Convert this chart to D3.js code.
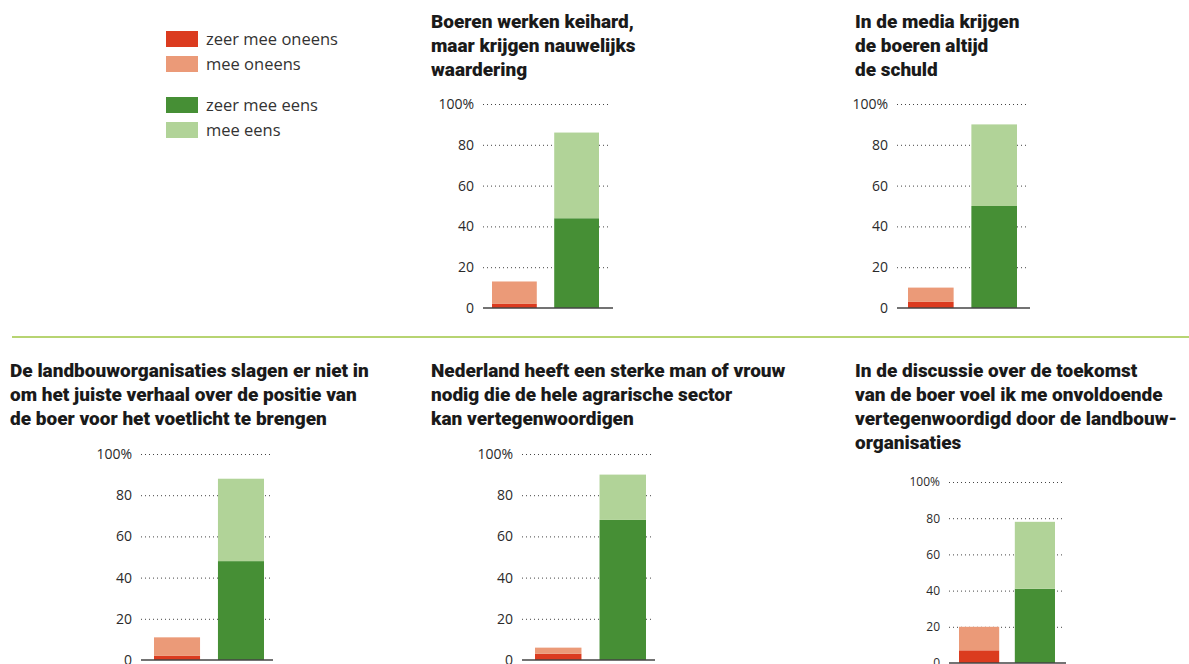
<!DOCTYPE html>
<html>
<head>
<meta charset="utf-8">
<script src="https://cdn.jsdelivr.net/npm/d3@7"></script>
<style>
  body { margin: 0; background: #fff; }
  svg { display: block; }
  .title { font-family: Roboto, sans-serif; font-weight: 900; font-size: 19px; fill: #1a1a1a; }
  .legend text { font-family: "Open Sans", sans-serif; font-size: 16.5px; fill: #333; }
  .tick text { font-family: "Open Sans", sans-serif; fill: #2a2a2a; }
</style>
</head>
<body>
<div id="chart"></div>
<script>
// survey answers per statement, percentages
const titles = [
  ["Boeren werken keihard,", "maar krijgen nauwelijks", "waardering"],
  ["In de media krijgen", "de boeren altijd", "de schuld"],
  ["De landbouworganisaties slagen er niet in", "om het juiste verhaal over de positie van", "de boer voor het voetlicht te brengen"],
  ["Nederland heeft een sterke man of vrouw", "nodig die de hele agrarische sector", "kan vertegenwoordigen"],
  ["In de discussie over de toekomst", "van de boer voel ik me onvoldoende", "vertegenwoordigd door de landbouw-", "organisaties"]
];
const zeerOneens = [2, 3, 2, 3, 7];
const meeOneens  = [11, 7, 9, 3, 13];
const zeerEens   = [44, 50, 48, 68, 41];
const meeEens    = [42, 40, 40, 22, 37];
const tickValues = [0, 20, 40, 60, 80, 100];
const legendLabels = ["zeer mee oneens", "mee oneens", "zeer mee eens", "mee eens"];

const colors = {
  zeerOneens: "#db3b1f",
  meeOneens: "#eb9a78",
  zeerEens: "#468f35",
  meeEens: "#b1d398"
};

// where each little chart sits on the page
const layout = [
  { tx: 431, ty: 28,  axL: 483, axR: 610, b0: 492, b1: 599, y0: 308, y100: 104, fs: 14 },
  { tx: 855, ty: 28,  axL: 897, axR: 1027, b0: 908, b1: 1017, y0: 308, y100: 104, fs: 14 },
  { tx: 10,  ty: 377, axL: 141, axR: 270, b0: 154, b1: 264, y0: 660, y100: 454, fs: 14 },
  { tx: 431, ty: 377, axL: 522, axR: 652, b0: 535, b1: 646, y0: 660, y100: 454, fs: 14 },
  { tx: 855, ty: 377, axL: 949, axR: 1063, b0: 959, b1: 1055, y0: 663, y100: 482, fs: 12 }
];

const width = 1189, height = 664;

const svg = d3.select("#chart").append("svg")
  .attr("width", width)
  .attr("height", height);

// legend
const legend = svg.append("g").attr("class", "legend");
const legendColors = [colors.zeerOneens, colors.meeOneens, colors.zeerEens, colors.meeEens];
const legendY = [31, 56, 97, 122];
legendLabels.forEach((lab, i) => {
  legend.append("rect")
    .attr("x", 166).attr("y", legendY[i])
    .attr("width", 32).attr("height", 16)
    .attr("fill", legendColors[i]);
  legend.append("text")
    .attr("x", 206).attr("y", legendY[i] + 8)
    .attr("dy", "0.35em")
    .text(lab);
});

// separator between the two rows
svg.append("line")
  .attr("x1", 12).attr("x2", width)
  .attr("y1", 337).attr("y2", 337)
  .attr("stroke", "#9fc643")
  .attr("stroke-width", 1.5);

layout.forEach((p, i) => {
  const g = svg.append("g");

  // title
  const t = g.append("text").attr("class", "title");
  titles[i].forEach((line, j) => {
    t.append("tspan").attr("x", p.tx).attr("y", p.ty + j * 24).text(line);
  });

  const y = d3.scaleLinear().domain([0, 100]).range([p.y0, p.y100]);
  const x = d3.scaleBand()
    .domain(["oneens", "eens"])
    .range([p.b0, p.b1])
    .paddingInner(0.28)
    .paddingOuter(0);

  // dotted grid + labels
  const axis = d3.axisLeft(y)
    .tickValues(tickValues)
    .tickSize(-(p.axR - p.axL))
    .tickPadding(9)
    .tickFormat(d => d === 100 ? "100%" : d);

  const ax = g.append("g")
    .attr("transform", "translate(" + p.axL + ",0)")
    .call(axis);
  ax.select(".domain").remove();
  ax.selectAll(".tick line")
    .attr("stroke", "#444")
    .attr("stroke-width", 1)
    .attr("stroke-dasharray", "1,3");
  ax.selectAll(".tick text")
    .style("font-size", p.fs + "px");
  ax.selectAll(".tick").filter(d => d === 0).select("line").remove();

  // stacked bars
  const stacks = [
    { key: "oneens", parts: [[zeerOneens[i], colors.zeerOneens], [meeOneens[i], colors.meeOneens]] },
    { key: "eens", parts: [[zeerEens[i], colors.zeerEens], [meeEens[i], colors.meeEens]] }
  ];
  stacks.forEach(s => {
    let base = 0;
    s.parts.forEach(([v, c]) => {
      g.append("rect")
        .attr("x", x(s.key))
        .attr("width", x.bandwidth())
        .attr("y", y(base + v))
        .attr("height", y(base) - y(base + v))
        .attr("fill", c);
      base += v;
    });
  });

  // zero line
  g.append("line")
    .attr("x1", p.axL).attr("x2", p.axR + 3)
    .attr("y1", y(0)).attr("y2", y(0))
    .attr("stroke", "#444")
    .attr("stroke-width", 1.5);
});
</script>
</body>
</html>
